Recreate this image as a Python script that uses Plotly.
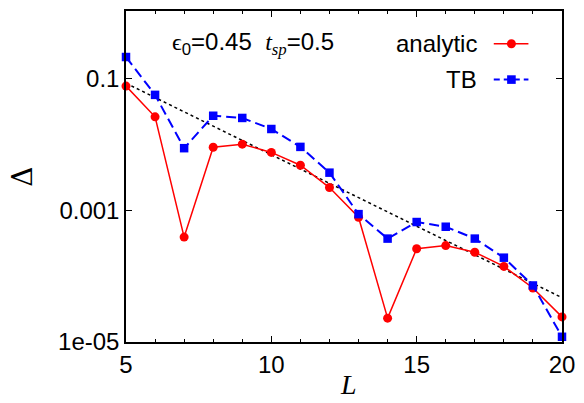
import plotly.graph_objects as go

L = [5, 6, 7, 8, 9, 10, 11, 12, 13, 14, 15, 16, 17, 18, 19, 20]
analytic = [0.076, 0.026, 3.9e-4, 0.009, 0.010, 0.0075, 0.0048, 0.0022, 7.8e-4,
            2.3e-5, 2.6e-4, 2.9e-4, 2.3e-4, 1.4e-4, 6.6e-5, 2.4e-5]
tb = [0.21, 0.056, 0.0087, 0.027, 0.025, 0.017, 0.0091, 0.0037, 8.7e-4,
      3.7e-4, 6.6e-4, 5.6e-4, 3.7e-4, 1.9e-4, 7.2e-5, 1.2e-5]
fit_L = [5, 20]
fit_vals = [0.084, 4.7e-5]

ytick_vals = [1e-5, 1e-3, 1e-1]
ytick_text = ["1e-05", "0.001", "0.1"]
xtick_vals = [5, 10, 15, 20]

FONT = "Liberation Sans"
FS = 24
RED = "#ff0000"
BLUE = "#0000ff"

fig = go.Figure()
fig.add_trace(go.Scatter(x=fit_L, y=fit_vals, mode="lines",
                         line=dict(color="black", width=1.5, dash="dot"),
                         showlegend=False, hoverinfo="skip"))
fig.add_trace(go.Scatter(x=L, y=analytic, mode="lines+markers", name="analytic",
                         line=dict(color=RED, width=1.5),
                         marker=dict(symbol="circle", size=9, color=RED),
                         showlegend=False, cliponaxis=False))
fig.add_trace(go.Scatter(x=L, y=tb, mode="lines+markers", name="TB",
                         line=dict(color=BLUE, width=2, dash="10px,5px"),
                         marker=dict(symbol="square", size=8.5, color=BLUE),
                         showlegend=False, cliponaxis=False))

# custom legend (text left of sample, gnuplot-style)
legend_rows = [("analytic", RED, "solid", "circle", 0.9009),
               ("TB", BLUE, "6px,4px", "square", 0.7928)]
shapes = []
annotations = []
for name, col, dash, sym, yp in legend_rows:
    annotations.append(dict(x=0.809, y=yp, xref="paper", yref="paper",
                            text=name, showarrow=False, xanchor="right",
                            yanchor="middle", font=dict(family=FONT, size=FS, color="black")))
    shapes.append(dict(type="line", xref="paper", yref="paper",
                       x0=0.8435, x1=0.923, y0=yp, y1=yp,
                       line=dict(color=col, width=2 if sym == "square" else 1.5, dash=dash)))
    half = 4.5 if sym == "circle" else 4.3
    shapes.append(dict(type="circle" if sym == "circle" else "rect",
                       xref="paper", yref="paper",
                       xsizemode="pixel", ysizemode="pixel",
                       xanchor=0.884, yanchor=yp,
                       x0=-half, x1=half, y0=-half, y1=half,
                       fillcolor=col, line=dict(color=col, width=0)))

annotations.append(dict(x=0.100, y=0.9009, xref="paper", yref="paper",
                        text="<span style='font-family:Liberation Serif'>ϵ</span><sub>0</sub>=0.45  <i><span style='font-family:Liberation Serif'>t</span></i><sub><i><span style='font-family:Liberation Serif'>sp</span></i></sub>=0.5",
                        showarrow=False, xanchor="left", yanchor="middle",
                        font=dict(family=FONT, size=FS, color="black")))
annotations.append(dict(x=-0.238, y=0.50, xref="paper", yref="paper",
                        text="Δ", showarrow=False, xanchor="center", yanchor="middle",
                        textangle=-90,
                        font=dict(family="DejaVu Serif", size=28, color="black")))
annotations.append(dict(x=0.51, y=-0.181, xref="paper", yref="paper",
                        text="<i>L</i>", showarrow=False, xanchor="center", yanchor="bottom",
                        font=dict(family="Liberation Serif", size=28, color="black")))

fig.update_layout(
    width=584, height=403,
    margin=dict(l=126, r=17, t=9, b=61),
    paper_bgcolor="white", plot_bgcolor="white",
    font=dict(family=FONT, size=FS, color="black"),
    shapes=shapes, annotations=annotations,
    showlegend=False,
)
fig.update_xaxes(range=[5, 20], tickvals=xtick_vals, ticks="inside", ticklen=6,
                 tickwidth=1, tickcolor="black", showline=True, linecolor="black",
                 linewidth=1.5, mirror="ticks", showgrid=False, zeroline=False,
                 minor=dict(dtick=1, ticks="inside", ticklen=3, tickcolor="black", showgrid=False),
                 tickfont=dict(family=FONT, size=FS))
fig.update_yaxes(type="log", range=[-5, 0.02], tickvals=ytick_vals, ticktext=ytick_text,
                 ticks="inside", ticklen=6, tickwidth=1, tickcolor="black",
                 showline=True, linecolor="black", linewidth=1.5, mirror="ticks",
                 showgrid=False, zeroline=False, tickfont=dict(family=FONT, size=FS))

fig.write_html("out.html")
